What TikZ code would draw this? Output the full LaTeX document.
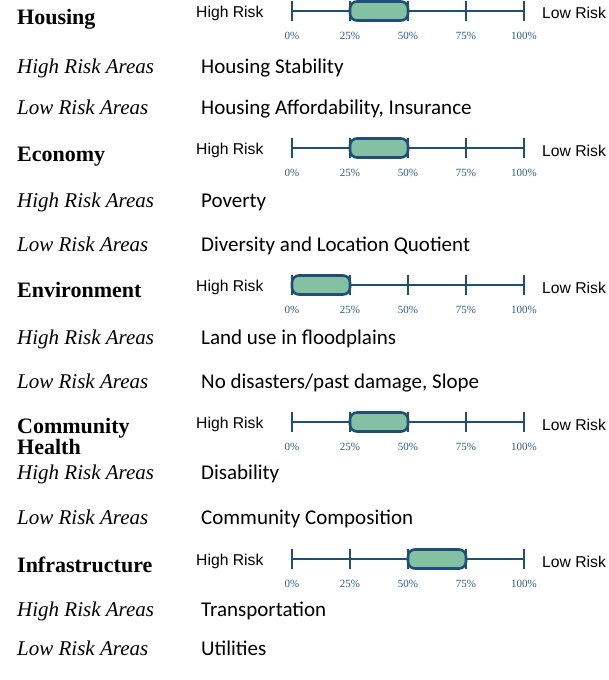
\documentclass[tikz,border=0pt]{standalone}
\usepackage{fontspec}
\setmainfont{Liberation Serif}
\newfontfamily\carlito{Carlito}
\newfontfamily\arialsans{Liberation Sans}
\usetikzlibrary{positioning}
\definecolor{axisblue}{HTML}{1F4E79}
\definecolor{boxgreen}{HTML}{84C1A3}
\definecolor{pctblue}{HTML}{2E5C8A}
\newcommand{\pc}{2.32}
\newcommand{\riskbar}[4]{%
    \draw[axis] (292,#2) -- (524,#2);
    \foreach \p in {0,25,50,75,100} {
        \draw[axis] (292+\pc*\p,#2-10) -- (292+\pc*\p,#2+10);
        \node[pct] (#1-\p) at (292+\pc*\p,#2+28) {\p\%};
    }
    \draw[riskbox] (292+\pc*#3,#2-9.5) rectangle (292+\pc*#4,#2+9.5);
    \node[risk] (#1-high) at (196,#2+6) {High Risk};
    \node[risk] (#1-low) at (542,#2+8) {Low Risk};
}

\begin{document}
\begin{tikzpicture}[x=1pt, y=-1pt,
    title/.style={anchor=base west, inner sep=0pt, font=\fontsize{22}{21}\selectfont\bfseries, align=left},
    area/.style={anchor=base west, inner sep=0pt, font=\fontsize{21}{24}\selectfont\itshape},
    item/.style={anchor=base west, inner sep=0pt, font=\fontsize{21}{24}\selectfont\carlito},
    risk/.style={anchor=base west, inner sep=0pt, font=\fontsize{15.7}{18}\selectfont\arialsans},
    pct/.style={anchor=base, inner sep=0pt, text=pctblue, font=\fontsize{11}{13}\selectfont},
    axis/.style={draw=axisblue, line width=2pt},
    riskbox/.style={draw=axisblue, fill=boxgreen, line width=2.6pt, rounded corners=7pt}]
    \useasboundingbox (0,0) rectangle (608,680);

    % Housing
    \node[title] (housing) at (17,24) {Housing};
    \riskbar{housing}{11}{25}{50}
    \node[area] (housing-hra) at (17,73) {High Risk Areas};
    \node[item] (housing-hi) at (201,73) {Housing Stability};
    \node[area] (housing-lra) at (17,114) {Low Risk Areas};
    \node[item] (housing-lo) at (201,114) {Housing Affordability, Insurance};

    % Economy
    \node[title] (economy) at (17,161) {Economy};
    \riskbar{economy}{148}{25}{50}
    \node[area] (economy-hra) at (17,207) {High Risk Areas};
    \node[item] (economy-hi) at (201,207) {Poverty};
    \node[area] (economy-lra) at (17,251) {Low Risk Areas};
    \node[item] (economy-lo) at (201,251) {Diversity and Location Quotient};

    % Environment
    \node[title] (environment) at (17,297) {Environment};
    \riskbar{environment}{285}{0}{25}
    \node[area] (environment-hra) at (17,344) {High Risk Areas};
    \node[item] (environment-hi) at (201,344) {Land use in floodplains};
    \node[area] (environment-lra) at (17,388) {Low Risk Areas};
    \node[item] (environment-lo) at (201,388) {No disasters/past damage, Slope};

    % Community Health (base is the last line)
    \node[title] (health) at (17,454) {Community\\Health};
    \riskbar{health}{422}{25}{50}
    \node[area] (health-hra) at (17,479) {High Risk Areas};
    \node[item] (health-hi) at (201,479) {Disability};
    \node[area] (health-lra) at (17,524) {Low Risk Areas};
    \node[item] (health-lo) at (201,524) {Community Composition};

    % Infrastructure
    \node[title] (infra) at (17,572) {Infrastructure};
    \riskbar{infra}{559}{50}{75}
    \node[area] (infra-hra) at (17,616) {High Risk Areas};
    \node[item] (infra-hi) at (201,616) {Transportation};
    \node[area] (infra-lra) at (17,655) {Low Risk Areas};
    \node[item] (infra-lo) at (201,655) {Utilities};
\end{tikzpicture}
\end{document}
